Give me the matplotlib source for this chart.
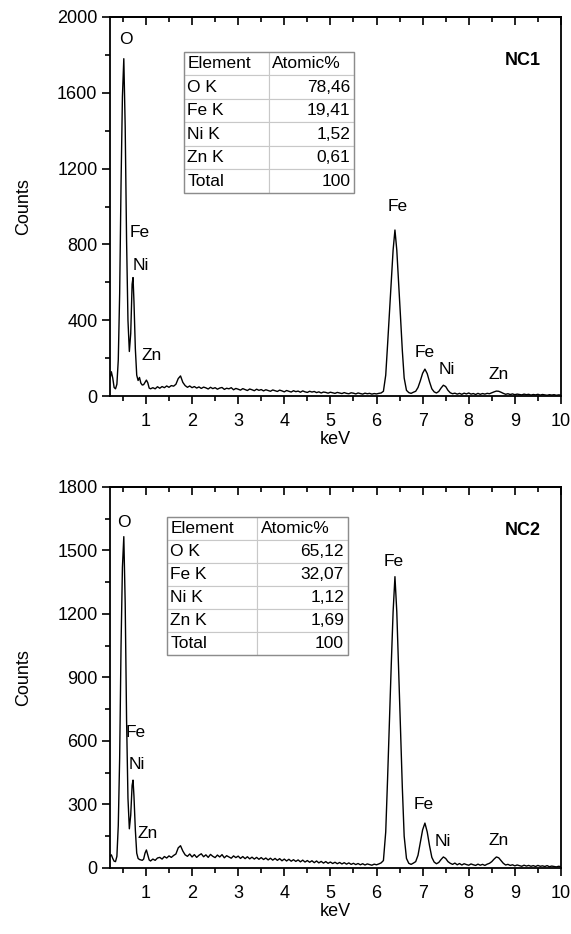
import matplotlib
matplotlib.use("Agg")
import matplotlib.pyplot as plt
from matplotlib.ticker import MultipleLocator

plt.rcParams["font.family"] = ["Liberation Sans", "DejaVu Sans"]

# Channel energies (keV), shared by both spectra
kev = [0.22, 0.25, 0.28, 0.31, 0.34, 0.37, 0.40, 0.43, 0.46, 0.49,
       0.52, 0.55, 0.58, 0.61, 0.64, 0.67, 0.70, 0.72, 0.74, 0.77,
       0.80, 0.83, 0.86, 0.89, 0.92, 0.95, 0.98, 1.01, 1.04, 1.07, 1.10,
       1.15, 1.20, 1.25, 1.30, 1.35, 1.40, 1.45, 1.50, 1.55, 1.60,
       1.65, 1.70, 1.75, 1.80, 1.85, 1.90, 1.95, 2.00, 2.05, 2.10,
       2.15, 2.20, 2.25, 2.30, 2.35, 2.40, 2.45, 2.50, 2.55, 2.60,
       2.65, 2.70, 2.75, 2.80, 2.85, 2.90, 2.95, 3.00, 3.05, 3.10,
       3.15, 3.20, 3.25, 3.30, 3.35, 3.40, 3.45, 3.50, 3.55, 3.60,
       3.65, 3.70, 3.75, 3.80, 3.85, 3.90, 3.95, 4.00, 4.05, 4.10,
       4.15, 4.20, 4.25, 4.30, 4.35, 4.40, 4.45, 4.50, 4.55, 4.60,
       4.65, 4.70, 4.75, 4.80, 4.85, 4.90, 4.95, 5.00, 5.05, 5.10,
       5.15, 5.20, 5.25, 5.30, 5.35, 5.40, 5.45, 5.50, 5.55, 5.60,
       5.65, 5.70, 5.75, 5.80, 5.85, 5.90, 5.95, 6.00, 6.05, 6.10,
       6.15, 6.20,
       6.24, 6.28, 6.32, 6.36, 6.40, 6.44, 6.48, 6.52, 6.56, 6.60,
       6.65, 6.70, 6.75, 6.80, 6.85, 6.90, 6.95, 7.00, 7.05, 7.10,
       7.15, 7.20, 7.25, 7.30, 7.35, 7.40, 7.45, 7.50, 7.55, 7.60,
       7.65, 7.70, 7.75, 7.80, 7.85, 7.90, 7.95, 8.00, 8.05, 8.10,
       8.15, 8.20, 8.25, 8.30, 8.35, 8.40, 8.45, 8.50, 8.55, 8.60,
       8.65, 8.70, 8.75, 8.80, 8.85, 8.90, 8.95, 9.00, 9.05, 9.10,
       9.15, 9.20, 9.25, 9.30, 9.35, 9.40, 9.45, 9.50, 9.55, 9.60,
       9.65, 9.70, 9.75, 9.80, 9.85, 9.90, 9.95, 10.00]

counts_nc1 = [90, 128, 95, 45, 38, 62, 190, 540, 1120, 1580,
              1780, 1420, 820, 400, 235, 330, 590, 625, 500, 250,
              110, 82, 98, 68, 58, 60, 72, 84, 70, 42, 38,
              44, 38, 49, 41, 50, 44, 53, 46, 55, 52,
              62, 92, 106, 72, 55, 46, 53, 44, 50, 42,
              48, 40, 47, 43, 37, 46, 39, 44, 36, 42,
              45, 35, 41, 38, 44, 33, 40, 36, 31, 39,
              34, 29, 37, 33, 28, 36, 30, 34, 27, 33,
              29, 25, 32, 28, 24, 31, 27, 22, 29, 25,
              21, 28, 23, 26, 20, 27, 22, 19, 25, 21,
              24, 18, 22, 16, 21, 19, 15, 20, 17, 14,
              19, 16, 13, 18, 14, 12, 17, 15, 11, 16,
              13, 10, 15, 12, 14, 10, 13, 11, 14, 16,
              25, 110,
              270, 440, 610, 770, 876, 770, 600, 420, 240, 95,
              30, 18, 14, 20, 25, 45, 80, 120, 142, 118,
              75, 38, 22, 16, 24, 42, 57, 50, 30, 17,
              12, 15, 10, 14, 9, 15, 11, 16, 10, 13,
              8, 14, 9, 13, 10, 14, 12, 17, 22, 26,
              25, 20, 14, 9, 12, 8, 11, 7, 10, 8,
              6, 10, 7, 9, 5, 8, 6, 9, 5, 8,
              6, 4, 7, 5, 7, 4, 6, 5]

counts_nc2 = [55, 62, 45, 32, 30, 55, 200, 520, 1050, 1420,
              1565, 1250, 700, 330, 185, 250, 390, 415, 340, 180,
              70, 45, 40, 38, 36, 42, 70, 85, 62, 38, 33,
              42, 36, 47, 50, 42, 54, 47, 57, 50, 59,
              66, 95, 105, 80, 62, 55, 66, 52, 63, 50,
              60, 67, 53, 62, 50, 64, 55, 49, 61, 52,
              63, 48, 58, 52, 46, 57, 49, 56, 45, 54,
              44, 53, 43, 51, 42, 50, 41, 49, 40, 47,
              38, 46, 37, 45, 36, 44, 34, 42, 33, 41,
              32, 39, 31, 38, 29, 37, 28, 35, 27, 34,
              25, 33, 24, 31, 23, 30, 22, 28, 21, 27,
              20, 26, 19, 25, 18, 24, 17, 22, 16, 21,
              15, 20, 14, 19, 16, 13, 18, 15, 19, 24,
              35, 170,
              420, 690, 960, 1210, 1376, 1210, 940, 660, 380, 150,
              45, 22, 17, 23, 30, 60, 120, 180, 212, 170,
              105, 50, 28, 20, 26, 40, 52, 45, 30, 22,
              17, 23, 15, 21, 14, 20, 16, 13, 19, 15,
              12, 18, 13, 17, 12, 18, 22, 30, 42, 52,
              48, 35, 22, 14, 17, 12, 15, 10, 14, 11,
              8, 13, 9, 12, 8, 11, 7, 12, 8, 10,
              7, 11, 6, 9, 7, 5, 8, 6]

# EDS quantification tables
elements = ["O K", "Fe K", "Ni K", "Zn K", "Total"]
atomic_nc1 = ["78,46", "19,41", "1,52", "0,61", "100"]
atomic_nc2 = ["65,12", "32,07", "1,12", "1,69", "100"]

# Peak labels: (text, keV, counts)
peaks_nc1 = [("O", 0.57, 1880), ("Fe", 0.87, 865), ("Ni", 0.89, 690),
             ("Zn", 1.13, 215), ("Fe", 6.45, 1000), ("Fe", 7.05, 232),
             ("Ni", 7.53, 142), ("Zn", 8.64, 111)]
peaks_nc2 = [("O", 0.52, 1630), ("Fe", 0.78, 642), ("Ni", 0.81, 491),
             ("Zn", 1.04, 161), ("Fe", 6.38, 1446), ("Fe", 7.03, 298),
             ("Ni", 7.44, 123), ("Zn", 8.64, 132)]

fig = plt.figure(figsize=(5.71, 9.34), dpi=100)
ax1 = fig.add_axes([0.1926, 0.576, 0.7898, 0.4058])
ax2 = fig.add_axes([0.1926, 0.0707, 0.7898, 0.408])


def draw_panel(ax, counts, peaks, atomic, name, ymax, ymajor, tbl_box):
    ax.plot(kev, counts, color="black", lw=1.0)
    ax.set_xlim(0.22, 10)
    ax.set_ylim(0, ymax)
    ax.xaxis.set_major_locator(MultipleLocator(1))
    ax.xaxis.set_minor_locator(MultipleLocator(0.5))
    ax.yaxis.set_major_locator(MultipleLocator(ymajor))
    ax.yaxis.set_minor_locator(MultipleLocator(ymajor / 2))
    for s in ax.spines.values():
        s.set_linewidth(1.3)
    ax.tick_params(which="both", direction="out", top=False, right=False,
                   labelsize=13, width=1.2)
    ax.tick_params(axis="x", pad=6)
    ax.tick_params(axis="y", pad=3)
    ax.tick_params(which="major", length=6)
    ax.tick_params(which="minor", length=3.5)
    # mirrored ticks on top, pointing in
    top = ax.secondary_xaxis("top")
    top.xaxis.set_major_locator(MultipleLocator(1))
    top.xaxis.set_minor_locator(MultipleLocator(0.5))
    top.tick_params(which="both", direction="in", labeltop=False, width=1.2)
    top.tick_params(which="major", length=6)
    top.tick_params(which="minor", length=3.5)
    top.spines["top"].set_linewidth(1.3)
    ax.set_xlabel("keV", fontsize=13, labelpad=1)
    ax.set_ylabel("Counts", fontsize=13, labelpad=18)

    for txt, x, y in peaks:
        ax.text(x, y, txt, fontsize=12.5, ha="center", va="center")
    ax.text(0.955, 0.885, name, transform=ax.transAxes, fontsize=13,
            fontweight="bold", ha="right", va="center")

    rows = [["Element", "Atomic%"]] + [[e, a] for e, a in zip(elements, atomic)]
    tbl = ax.table(cellText=rows, bbox=tbl_box, cellLoc="left")
    tbl.auto_set_font_size(False)
    tbl.set_fontsize(12.5)
    for (r, c), cell in tbl.get_celld().items():
        cell.set_edgecolor("#c8c8c8")
        cell.set_linewidth(0.8)
        cell.PAD = 0.04
        if c == 1 and r > 0:
            cell._loc = "right"
            cell.get_text().set_horizontalalignment("right")
    # darker outer frame
    x0, y0, w, h = tbl_box
    ax.add_patch(plt.Rectangle((x0, y0), w, h, transform=ax.transAxes,
                               fill=False, edgecolor="#8c8c8c", lw=1.0, zorder=5))


draw_panel(ax1, counts_nc1, peaks_nc1, atomic_nc1, "NC1", 2000, 400,
           [0.164, 0.536, 0.377, 0.372])
draw_panel(ax2, counts_nc2, peaks_nc2, atomic_nc2, "NC2", 1800, 300,
           [0.126, 0.559, 0.401, 0.362])

fig.savefig("out.png", dpi=100)
